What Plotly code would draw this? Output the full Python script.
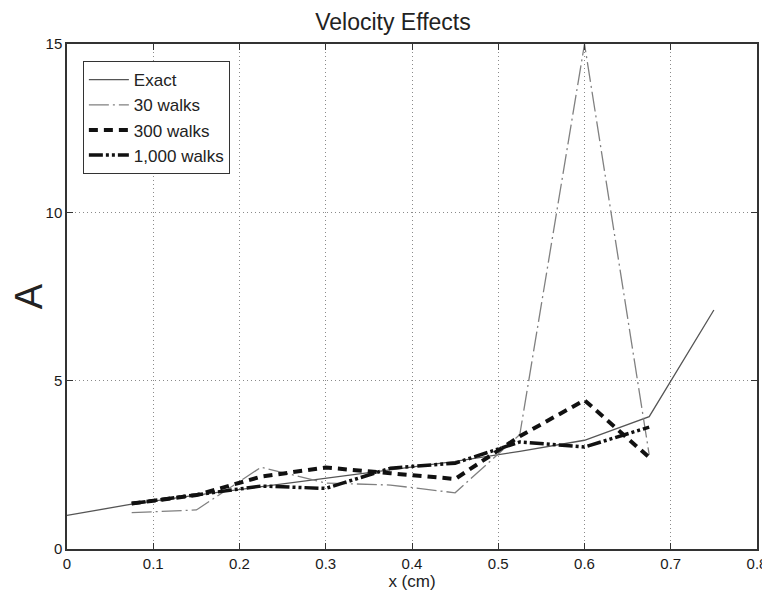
import plotly.graph_objects as go

x_exact = [0, 0.075, 0.15, 0.225, 0.3, 0.375, 0.45, 0.525, 0.6, 0.675, 0.75]
a_exact = [1.0, 1.33, 1.6, 1.85, 2.08, 2.34, 2.6, 2.9, 3.23, 3.93, 7.1]

x_walks = [0.075, 0.15, 0.225, 0.3, 0.375, 0.45, 0.525, 0.6, 0.675]
a_30 = [1.08, 1.16, 2.43, 1.96, 1.9, 1.67, 3.4, 15.0, 2.8]
a_300 = [1.35, 1.6, 2.15, 2.42, 2.25, 2.08, 3.35, 4.42, 2.72]
a_1000 = [1.35, 1.6, 1.87, 1.8, 2.4, 2.55, 3.18, 3.03, 3.62]

x_ticks = [0, 0.1, 0.2, 0.3, 0.4, 0.5, 0.6, 0.7, 0.8]
x_ticklabels = ["0", "0.1", "0.2", "0.3", "0.4", "0.5", "0.6", "0.7", "0.8"]
y_ticks = [0, 5, 10, 15]

FONT = "Liberation Sans, Arial"

fig = go.Figure()
fig.add_trace(go.Scatter(x=x_exact, y=a_exact, mode="lines", name="Exact",
                         line=dict(color="#555555", width=1.3, dash="solid")))
fig.add_trace(go.Scatter(x=x_walks, y=a_30, mode="lines", name="30 walks",
                         line=dict(color="#808080", width=1.3, dash="20px,4px,2px,4px")))
fig.add_trace(go.Scatter(x=x_walks, y=a_300, mode="lines", name="300 walks",
                         line=dict(color="#111111", width=4, dash="9px,6px")))
fig.add_trace(go.Scatter(x=x_walks, y=a_1000, mode="lines", name="1,000 walks",
                         line=dict(color="#111111", width=3.5, dash="14px,3px,3px,3px,3px,3px")))

axis_common = dict(showline=True, linecolor="#333333", linewidth=1.5, mirror="ticks",
                   ticks="inside", ticklen=6, tickcolor="#333333",
                   showgrid=True, gridcolor="#8a8a8a", griddash="1px,3px", gridwidth=1.2,
                   zeroline=False, tickfont=dict(family=FONT, size=15, color="#1a1a1a"))

fig.update_xaxes(range=[0, 0.8], tickvals=x_ticks, ticktext=x_ticklabels,
                 title=dict(text="x (cm)", font=dict(family=FONT, size=17, color="#222222"), standoff=2),
                 **axis_common)
fig.update_yaxes(range=[0, 15], tickvals=y_ticks,
                 title=dict(text="A", font=dict(family=FONT, size=38, color="#222222"), standoff=0),
                 **axis_common)

fig.update_layout(
    width=770, height=598,
    margin=dict(l=59, r=21, t=36, b=57, autoexpand=False),
    paper_bgcolor="white", plot_bgcolor="white",
    title=dict(text="Velocity Effects", x=0.5, xanchor="center", y=0.99, yanchor="top",
               font=dict(family=FONT, size=23, color="#222222")),
    legend=dict(x=0.023, y=0.966, xanchor="left", yanchor="top",
                bordercolor="#333333", borderwidth=1, bgcolor="white",
                font=dict(family=FONT, size=17, color="#222222"),
                tracegroupgap=0, itemwidth=40, entrywidth=165, entrywidthmode="pixels"),
    showlegend=True,
)

fig.write_html("out.html")
